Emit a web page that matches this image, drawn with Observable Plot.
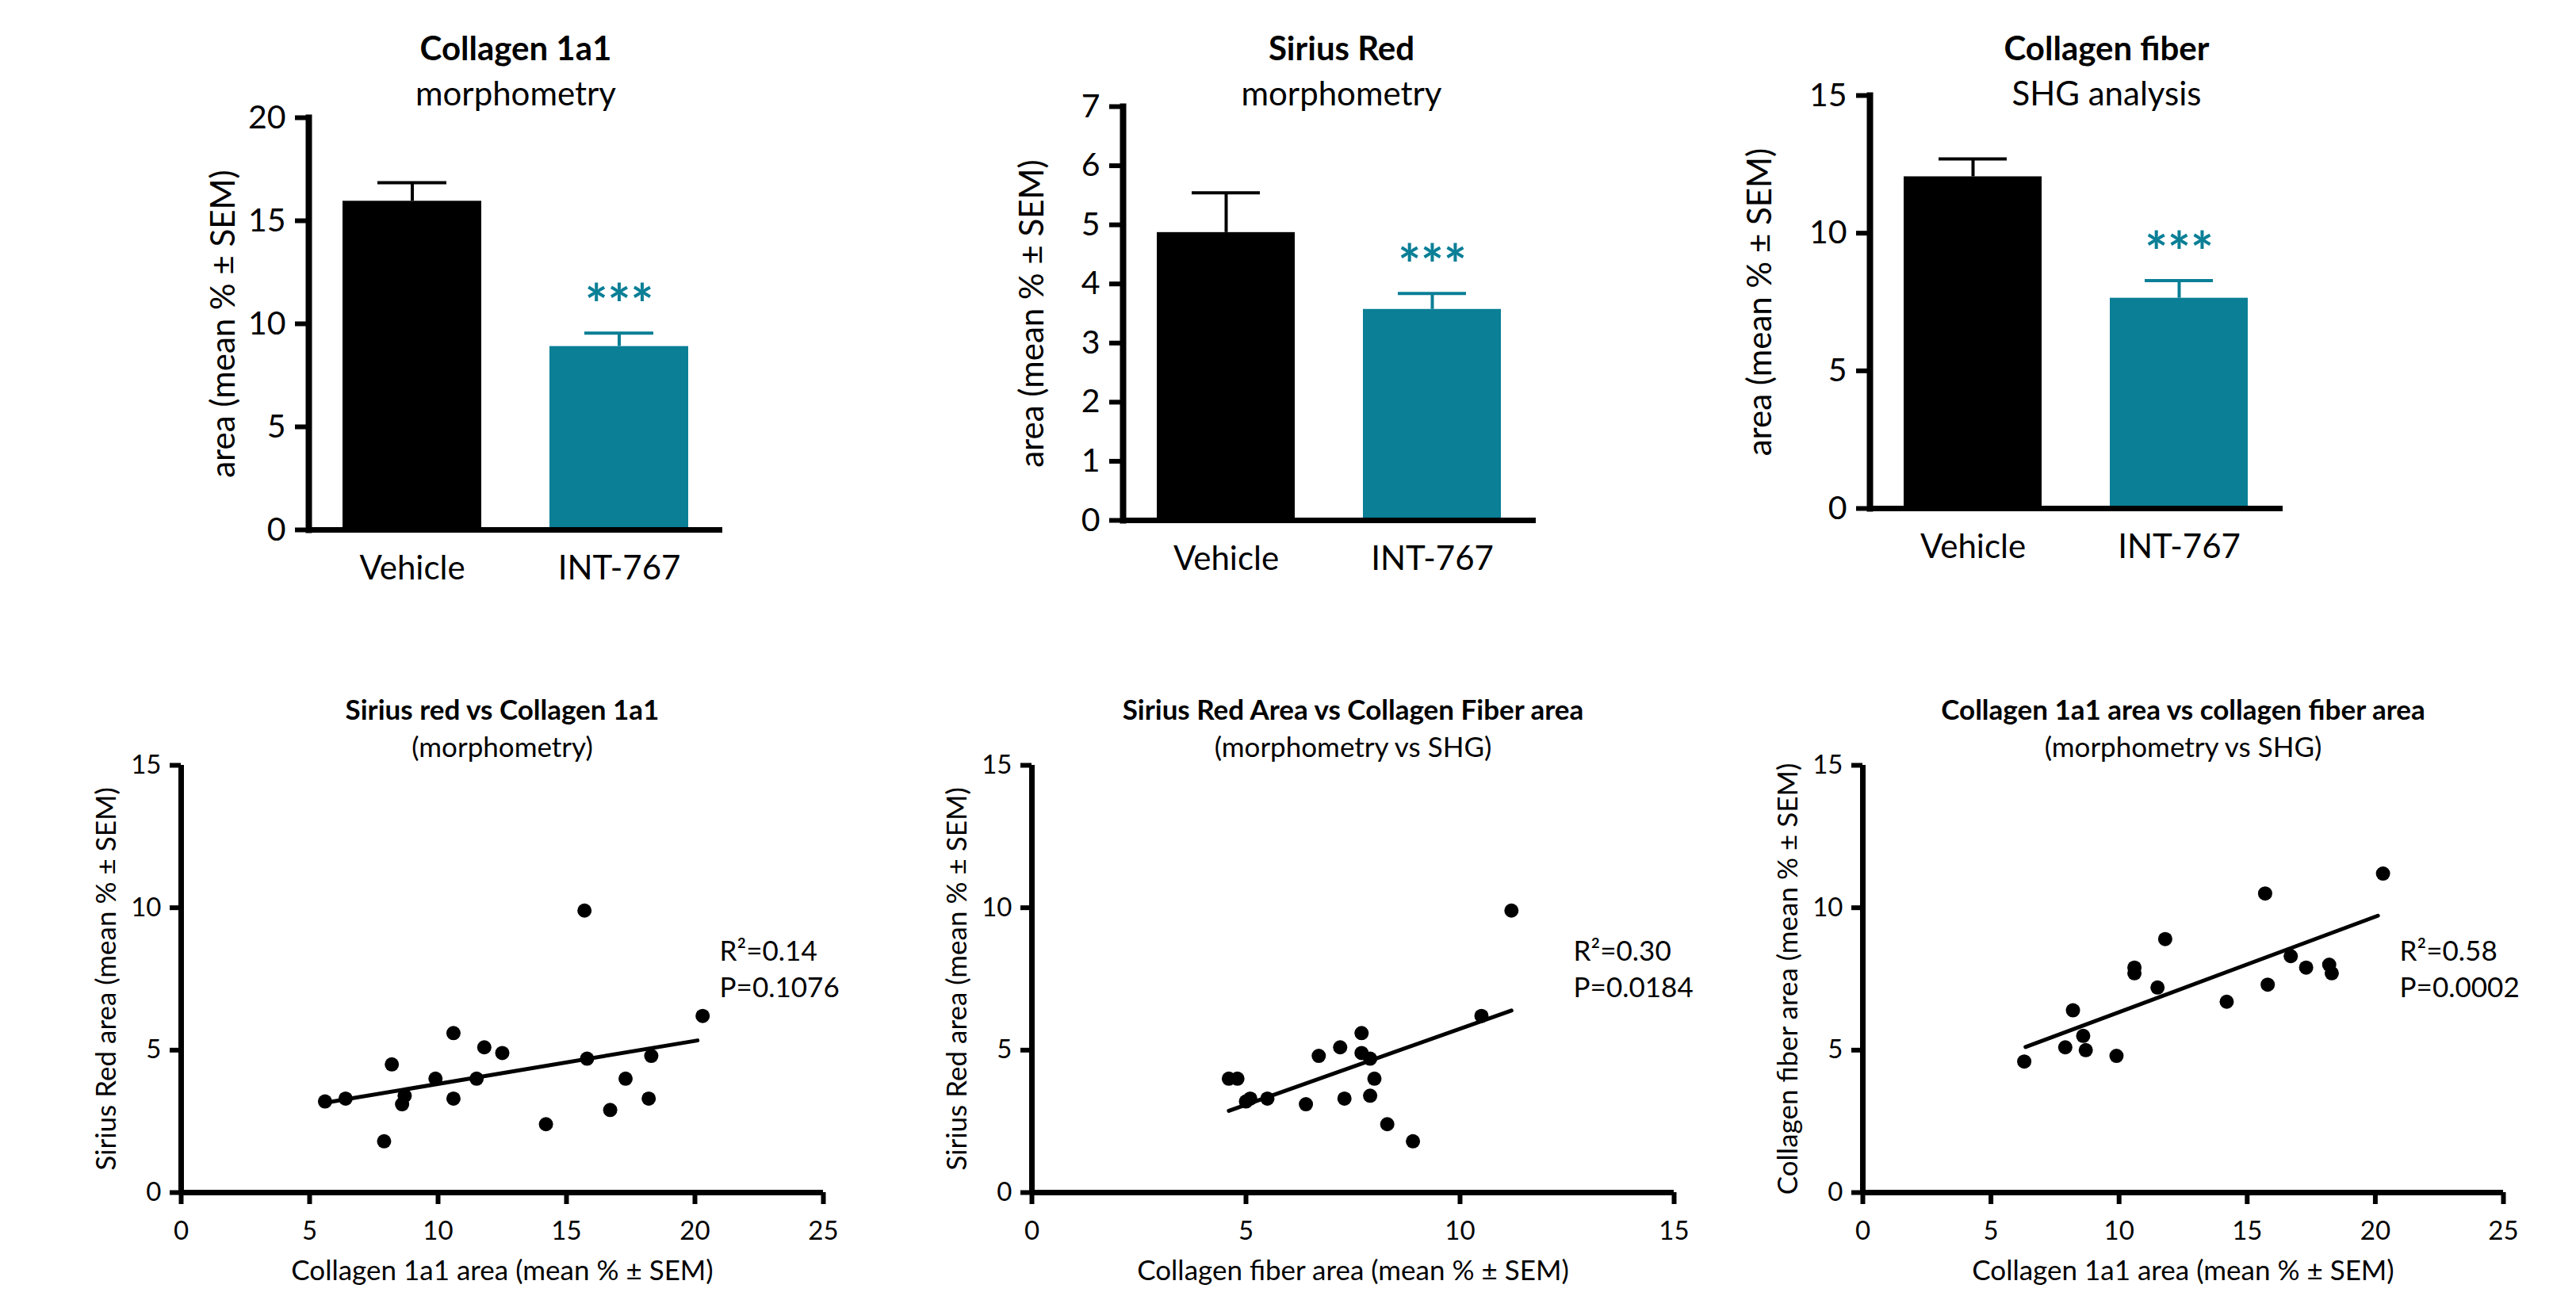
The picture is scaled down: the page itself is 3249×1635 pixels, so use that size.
<!DOCTYPE html>
<html><head><meta charset="utf-8">
<script src="https://cdn.jsdelivr.net/npm/d3@7"></script>
<script src="https://cdn.jsdelivr.net/npm/@observablehq/plot@0.6"></script>
<style>
html,body{margin:0;padding:0;background:#fff;}
#root{position:relative;width:3249px;height:1635px;background:#fff;overflow:hidden;font-family:Lato,sans-serif;}
.panel{position:absolute;}
.panel svg{overflow:visible;max-width:none;}
</style></head><body><div id="root"></div>
<script>
// ---------- data ----------
const categories = ["Vehicle", "INT-767"];
const col1a1Mean = [15.95, 8.9];
const col1a1Sem = [0.9, 0.65];
const siriusMean = [4.87, 3.57];
const siriusSem = [0.67, 0.27];
const fiberMean = [12.05, 7.64];
const fiberSem = [0.65, 0.64];
const significance = ["", "***"];

const barTicks1 = [0, 5, 10, 15, 20];
const barTicks2 = [0, 1, 2, 3, 4, 5, 6, 7];
const barTicks3 = [0, 5, 10, 15];
const scatterYTicks = [0, 5, 10, 15];
const scatterXTicks25 = [0, 5, 10, 15, 20, 25];
const scatterXTicks15 = [0, 5, 10, 15];

// Sirius red (y) vs Collagen 1a1 (x)
const srVsColX = [5.6, 6.4, 7.9, 8.2, 8.6, 8.7, 9.9, 10.6, 10.6, 11.5, 11.8, 12.5, 14.2, 15.7, 15.8, 16.7, 17.3, 18.2, 18.3, 20.3];
const srVsColY = [3.2, 3.3, 1.8, 4.5, 3.1, 3.4, 4.0, 5.6, 3.3, 4.0, 5.1, 4.9, 2.4, 9.9, 4.7, 2.9, 4.0, 3.3, 4.8, 6.2];
const srVsColFitX = [5.6, 20.1];
const srVsColFitY = [3.15, 5.34];
const srVsColStats = "R²=0.14\nP=0.1076";

// Sirius red (y) vs Collagen fiber (x)
const srVsFibX = [4.6, 4.8, 5.0, 5.1, 5.5, 6.4, 6.7, 7.2, 7.3, 7.7, 7.7, 7.9, 7.9, 8.0, 8.3, 8.9, 10.5, 11.2];
const srVsFibY = [4.0, 4.0, 3.2, 3.3, 3.3, 3.1, 4.8, 5.1, 3.3, 5.6, 4.9, 4.7, 3.4, 4.0, 2.4, 1.8, 6.2, 9.9];
const srVsFibFitX = [4.6, 11.2];
const srVsFibFitY = [2.87, 6.39];
const srVsFibStats = "R²=0.30\nP=0.0184";

// Collagen fiber (y) vs Collagen 1a1 (x)
const fibVsColX = [6.3, 7.9, 8.2, 8.6, 8.7, 9.9, 10.6, 10.6, 11.5, 11.8, 14.2, 15.7, 15.8, 16.7, 17.3, 18.2, 18.3, 20.3];
const fibVsColY = [4.6, 5.1, 6.4, 5.5, 5.0, 4.8, 7.9, 7.7, 7.2, 8.9, 6.7, 10.5, 7.3, 8.3, 7.9, 8.0, 7.7, 11.2];
const fibVsColFitX = [6.35, 20.1];
const fibVsColFitY = [5.11, 9.72];
const fibVsColStats = "R²=0.58\nP=0.0002";

// ---------- styles ----------
const TEAL = "#0a7f96";
const barColors = ["#000000", TEAL];
const FONT = "Lato, 'Open Sans', sans-serif";
const root = document.getElementById("root");

function place(node, left, top, w, h) {
  const d = document.createElement("div");
  d.className = "panel";
  d.style.left = left + "px"; d.style.top = top + "px";
  d.style.width = w + "px"; d.style.height = h + "px";
  d.appendChild(node);
  root.appendChild(d);
}

function makeBar(cfg) {
  const rows = categories.map((c, i) => ({
    cat: c, mean: cfg.mean[i], top: cfg.mean[i] + cfg.sem[i], star: significance[i], color: barColors[i]
  }));
  const plot = Plot.plot({
    width: cfg.w, height: cfg.h,
    marginLeft: cfg.ml, marginRight: cfg.w - cfg.ml - cfg.pw,
    marginTop: cfg.mt, marginBottom: cfg.h - cfg.mt - cfg.ph,
    style: {fontFamily: FONT, background: "transparent", color: "#000", overflow: "visible"},
    x: {domain: categories, paddingInner: 0.33, paddingOuter: 0.165},
    y: {domain: [0, cfg.max]},
    color: {type: "identity"},
    marks: [
      Plot.barY(rows, {x: "cat", y: "mean", fill: "color"}),
      Plot.ruleX(rows, {x: "cat", y1: "mean", y2: "top", stroke: "color", strokeWidth: 4}),
      Plot.tickY(rows, {x: "cat", y: "top", stroke: "color", strokeWidth: 4, insetLeft: 44, insetRight: 44}),
      Plot.text(rows, {x: "cat", y: "top", text: "star", fill: TEAL, fontSize: 68, fontWeight: "bold", dy: -33, lineAnchor: "middle"}),
      Plot.axisY({ticks: cfg.ticks, tickSize: 17, tickPadding: 12, strokeWidth: 6, fontSize: 41, label: null, tickFormat: d => String(d)}),
      Plot.axisX({tickSize: 0, tickPadding: 33, fontSize: 42, label: null}),
      Plot.ruleY([0], {strokeWidth: 7}),
      Plot.frame({anchor: "left", strokeWidth: 8}),
      Plot.text([cfg.yLabel], {text: d => d, frameAnchor: "left", rotate: -90, dx: cfg.yLabelDx, fontSize: 42, textAnchor: "middle", lineAnchor: "middle"}),
      Plot.text([cfg.title], {text: d => d, frameAnchor: "top", dx: cfg.titleDx, dy: cfg.titleDy, fontSize: 42, fontWeight: "bold", lineAnchor: "middle"}),
      Plot.text([cfg.subtitle], {text: d => d, frameAnchor: "top", dx: cfg.titleDx, dy: cfg.subDy, fontSize: 42, lineAnchor: "middle"})
    ]
  });
  place(plot, cfg.left, cfg.top, cfg.w, cfg.h);
}

function makeScatter(cfg) {
  const pts = cfg.xs.map((x, i) => ({x, y: cfg.ys[i]}));
  const fit = cfg.fitX.map((x, i) => ({x, y: cfg.fitY[i]}));
  const stats = [{x: cfg.statX, y: cfg.statY, text: cfg.stats}];
  const plot = Plot.plot({
    width: cfg.w, height: cfg.h,
    marginLeft: cfg.ml, marginRight: cfg.w - cfg.ml - cfg.pw,
    marginTop: cfg.mt, marginBottom: cfg.h - cfg.mt - cfg.ph,
    style: {fontFamily: FONT, background: "transparent", color: "#000", overflow: "visible"},
    x: {domain: [0, cfg.xmax]},
    y: {domain: [0, 15]},
    marks: [
      Plot.ruleX([0], {strokeWidth: 7}),
      Plot.ruleY([0], {strokeWidth: 7}),
      Plot.axisY({ticks: scatterYTicks, tickSize: 14, tickPadding: 11, strokeWidth: 6, fontSize: 33, label: null, tickFormat: d => String(d)}),
      Plot.axisX({ticks: cfg.xticks, tickSize: 15, tickPadding: 21, strokeWidth: 6, fontSize: 33, label: null, tickFormat: d => String(d)}),
      Plot.line(fit, {x: "x", y: "y", strokeWidth: 5, stroke: "#000"}),
      Plot.dot(pts, {x: "x", y: "y", r: 9, fill: "#000", stroke: "none"}),
      Plot.text(stats, {x: "x", y: "y", text: "text", textAnchor: "start", lineAnchor: "bottom", lineHeight: 1.33, fontSize: 35}),
      Plot.text([cfg.yLabel], {text: d => d, frameAnchor: "left", rotate: -90, dx: -94, fontSize: 35, textAnchor: "middle", lineAnchor: "middle"}),
      Plot.text([cfg.xLabel], {text: d => d, frameAnchor: "bottom", dy: 99, fontSize: 35, lineAnchor: "middle"}),
      Plot.text([cfg.title], {text: d => d, frameAnchor: "top", dy: -69, fontSize: 35, fontWeight: "bold", lineAnchor: "middle"}),
      Plot.text([cfg.subtitle], {text: d => d, frameAnchor: "top", dy: -22, fontSize: 35, lineAnchor: "middle"})
    ]
  });
  place(plot, cfg.left, cfg.top, cfg.w, cfg.h);
}

const yBarLabel = "area (mean % \u00b1 SEM)";

makeBar({left: 0, top: 0, w: 1000, h: 800, ml: 389, pw: 522, mt: 148, ph: 520,
  mean: col1a1Mean, sem: col1a1Sem, max: 20, ticks: barTicks1,
  yLabel: yBarLabel, yLabelDx: -107, title: "Collagen 1a1", subtitle: "morphometry", titleDx: 0, titleDy: -86, subDy: -29});
makeBar({left: 1050, top: 0, w: 1000, h: 800, ml: 366, pw: 521, mt: 134, ph: 522,
  mean: siriusMean, sem: siriusSem, max: 7, ticks: barTicks2,
  yLabel: yBarLabel, yLabelDx: -114, title: "Sirius Red", subtitle: "morphometry", titleDx: 15, titleDy: -72, subDy: -15});
makeBar({left: 2080, top: 0, w: 1000, h: 800, ml: 278, pw: 521, mt: 120, ph: 521,
  mean: fiberMean, sem: fiberSem, max: 15, ticks: barTicks3,
  yLabel: yBarLabel, yLabelDx: -138, title: "Collagen fiber", subtitle: "SHG analysis", titleDx: 38, titleDy: -58, subDy: -1});

makeScatter({left: 0, top: 850, w: 1100, h: 785, ml: 228, pw: 810, mt: 115, ph: 539,
  xs: srVsColX, ys: srVsColY, fitX: srVsColFitX, fitY: srVsColFitY, stats: srVsColStats, statX: 20.96, statY: 6.85,
  xmax: 25, xticks: scatterXTicks25,
  title: "Sirius red vs Collagen 1a1", subtitle: "(morphometry)",
  xLabel: "Collagen 1a1 area (mean % \u00b1 SEM)", yLabel: "Sirius Red area (mean % \u00b1 SEM)"});
makeScatter({left: 1100, top: 850, w: 1100, h: 785, ml: 201, pw: 810, mt: 115, ph: 539,
  xs: srVsFibX, ys: srVsFibY, fitX: srVsFibFitX, fitY: srVsFibFitY, stats: srVsFibStats, statX: 12.65, statY: 6.85,
  xmax: 15, xticks: scatterXTicks15,
  title: "Sirius Red Area vs Collagen Fiber area", subtitle: "(morphometry vs SHG)",
  xLabel: "Collagen fiber area (mean % \u00b1 SEM)", yLabel: "Sirius Red area (mean % \u00b1 SEM)"});
makeScatter({left: 2150, top: 850, w: 1099, h: 785, ml: 199, pw: 808, mt: 115, ph: 539,
  xs: fibVsColX, ys: fibVsColY, fitX: fibVsColFitX, fitY: fibVsColFitY, stats: fibVsColStats, statX: 20.95, statY: 6.85,
  xmax: 25, xticks: scatterXTicks25,
  title: "Collagen 1a1 area vs collagen fiber area", subtitle: "(morphometry vs SHG)",
  xLabel: "Collagen 1a1 area (mean % \u00b1 SEM)", yLabel: "Collagen fiber area (mean % \u00b1 SEM)"});
</script>
</body></html>
